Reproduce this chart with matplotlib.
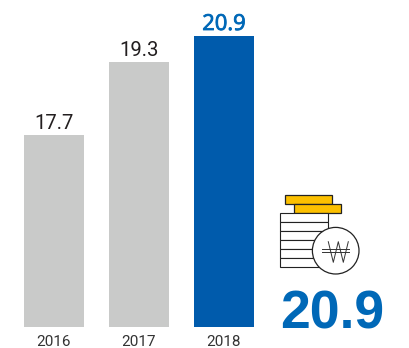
import matplotlib
matplotlib.use('Agg')
import matplotlib.pyplot as plt
import matplotlib.patheffects as pe
from matplotlib.patches import Rectangle, Circle

years = ['2016', '2017', '2018']
values = ['17.7', '19.3', '20.9']
# bar lengths as drawn in the picture, the axis is not proportional to the values
bar_heights = [192, 265, 291]
bar_colors = ['#c9cac9', '#c9cac9', '#005bac']
label_colors = ['#231f20', '#231f20', '#0068b7']
total = '20.9'

plt.rcParams['font.family'] = 'Roboto'

fig = plt.figure(figsize=(4.10, 3.48), dpi=100)
ax = fig.add_axes([0, 0, 1, 1])
ax.set_xlim(-54 / 85, 356 / 85)
ax.set_ylim(-21, 327)
ax.axis('off')

x = range(len(years))
ax.bar(x, bar_heights, width=60 / 85, color=bar_colors)
for i in x:
    if i == 2:
        # the font has no usable semibold here, thicken it a bit
        ax.text(i, bar_heights[i] + 6, values[i], ha='center', va='baseline',
                fontsize=15.8, color=label_colors[i], family='Open Sans',
                path_effects=[pe.withStroke(linewidth=0.6, foreground=label_colors[i])])
    else:
        ax.text(i, bar_heights[i] + 6, values[i], ha='center', va='baseline',
                fontsize=14.6, color=label_colors[i])
    ax.text(i, -19.5, years[i], ha='center', va='baseline', fontsize=11,
            color='#333333')

### coin icon + big number, pixel coords
ov = fig.add_axes([0, 0, 1, 1])
ov.set_xlim(0, 410)
ov.set_ylim(348, 0)
ov.axis('off')
ov.patch.set_alpha(0)

ov.add_patch(Rectangle((285.5, 194.5), 47, 9, fc='#fcc000', ec='#222222', lw=0.9))
ov.add_patch(Rectangle((294.5, 203.5), 47, 9, fc='#fcc000', ec='#222222', lw=0.9))
for y0 in [212.5, 221.5, 230.5, 239.5, 248.5, 257.5]:
    ov.add_patch(Rectangle((280.5, y0), 47.5, 9, fc='white', ec='#222222', lw=0.8))
ov.add_patch(Circle((335.7, 250.7), 23.3, fc='white', ec='#222222', lw=0.9))
ov.plot([328.3, 333.3, 338.3, 343.3, 348.3], [241.7, 262.3, 241.7, 262.3, 241.7],
        color='#333333', lw=0.7)
ov.plot([322.5, 349], [249.2, 249.2], color='#333333', lw=0.7)
ov.plot([322.5, 349], [251.8, 251.8], color='#333333', lw=0.7)

ov.text(332, 328.5, total, ha='center', va='baseline', fontsize=38.5,
        family='Liberation Sans', fontweight='bold', color='#0068b7')

fig.savefig('out.png', dpi=100)
